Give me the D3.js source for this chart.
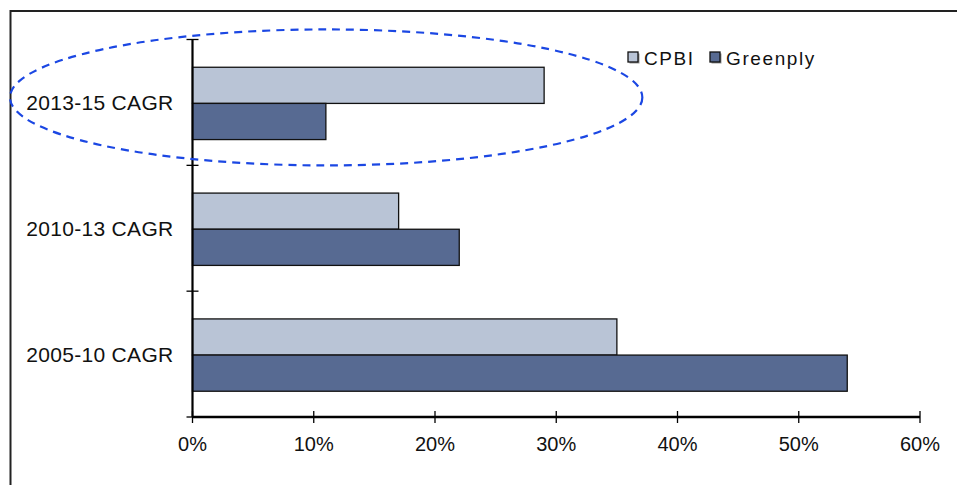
<!DOCTYPE html>
<html>
<head>
<meta charset="utf-8">
<script src="https://cdn.jsdelivr.net/npm/d3@7"></script>
<style>
  body { margin: 0; background: #fff; }
  svg { display: block; font-family: "Liberation Sans", Arial, sans-serif; }
</style>
</head>
<body>
<div id="chart"></div>
<script>
const categories = ["2013-15 CAGR", "2010-13 CAGR", "2005-10 CAGR"];
const seriesNames = ["CPBI", "Greenply"];
const cpbi = [29, 17, 35];
const greenply = [11, 22, 54];
const xTicks = [0, 10, 20, 30, 40, 50, 60];

const colors = { CPBI: "#b9c4d6", Greenply: "#576a92" };

const width = 957,
      height = 485,
      margin = ({ top: 39.5, right: 37, bottom: 68, left: 192.5 });

const data = categories.map((c, i) => ({
    cat: c,
    values: [{ key: "CPBI", v: cpbi[i] }, { key: "Greenply", v: greenply[i] }]
}));

let svg = d3.select("#chart")
    .append("svg")
    .attr("width", width)
    .attr("height", height)
    .attr("viewBox", [0, 0, width, height]);

// outer frame (right/bottom edges run off the picture)
svg.append("rect")
    .attr("x", 10.5).attr("y", 11)
    .attr("width", 980).attr("height", 500)
    .attr("fill", "none")
    .attr("stroke", "#222")
    .attr("stroke-width", 2);

let x = d3.scaleLinear()
    .domain([0, 60])
    .range([margin.left, width - margin.right]);

let y = d3.scaleBand()
    .domain(categories)
    .range([margin.top, height - margin.bottom])
    .padding(0);

let y1 = d3.scaleBand()
    .domain(seriesNames)
    .range([0, y.bandwidth()])
    .paddingOuter(0.74)
    .paddingInner(0);

// bars
let group = svg.selectAll(".grp")
    .data(data)
    .join("g")
    .attr("class", "grp")
    .attr("transform", d => `translate(0,${y(d.cat) + 1})`);

group.selectAll("rect")
    .data(d => d.values)
    .join("rect")
    .attr("x", x(0))
    .attr("y", d => y1(d.key))
    .attr("width", d => x(d.v) - x(0))
    .attr("height", y1.bandwidth())
    .attr("fill", d => colors[d.key])
    .attr("stroke", "#111")
    .attr("stroke-width", 1.3);

// x axis with cross ticks
let xAxis = svg.append("g")
    .attr("transform", `translate(0,${height - margin.bottom})`);
xAxis.append("line")
    .attr("x1", x(0)).attr("x2", x(60))
    .attr("stroke", "#000").attr("stroke-width", 2.5);
xAxis.selectAll(".tk")
    .data(xTicks)
    .join("line")
    .attr("x1", d => x(d)).attr("x2", d => x(d))
    .attr("y1", -6).attr("y2", 6)
    .attr("stroke", "#000").attr("stroke-width", 1.3);
xAxis.selectAll(".lbl")
    .data(xTicks)
    .join("text")
    .attr("x", d => x(d))
    .attr("y", 34)
    .attr("text-anchor", "middle")
    .attr("font-size", 20)
    .attr("fill", "#111")
    .text(d => d + "%");

// y axis
let yAxis = svg.append("g");
yAxis.append("line")
    .attr("x1", x(0)).attr("x2", x(0))
    .attr("y1", margin.top).attr("y2", height - margin.bottom)
    .attr("stroke", "#000").attr("stroke-width", 2.2);
let yTickPos = categories.map(c => y(c)).concat([y(categories[categories.length - 1]) + y.bandwidth()]);
yAxis.selectAll(".ytk")
    .data(yTickPos)
    .join("line")
    .attr("x1", x(0) - 6).attr("x2", x(0) + 6)
    .attr("y1", d => d).attr("y2", d => d)
    .attr("stroke", "#000").attr("stroke-width", 1.3);
yAxis.selectAll(".ylbl")
    .data(categories)
    .join("text")
    .attr("x", x(0) - 19)
    .attr("y", d => y(d) + y.bandwidth() / 2 + 8)
    .attr("text-anchor", "end")
    .attr("font-size", 21)
    .attr("letter-spacing", 0.3)
    .attr("fill", "#111")
    .text(d => d);

// legend
let legend = svg.append("g")
    .attr("transform", `translate(628,52)`);
let li = legend.selectAll("g")
    .data(seriesNames)
    .join("g")
    .attr("transform", (d, i) => `translate(${i * 82},0)`);
li.append("rect")
    .attr("x", 1.5).attr("y", 1.5)
    .attr("width", 10).attr("height", 10)
    .attr("fill", "#999");
li.append("rect")
    .attr("width", 10).attr("height", 10)
    .attr("fill", d => colors[d])
    .attr("stroke", "#111").attr("stroke-width", 1.3);
li.append("text")
    .attr("x", 16)
    .attr("y", 13)
    .attr("font-size", 19)
    .attr("letter-spacing", 1.6)
    .attr("fill", "#111")
    .text(d => d);

// dashed ellipse highlighting the latest period
let leftEdge = 10, rightEdge = x(37.1);
svg.append("ellipse")
    .attr("cx", (leftEdge + rightEdge) / 2)
    .attr("cy", y(categories[0]) + y.bandwidth() / 2 - 5)
    .attr("rx", (rightEdge - leftEdge) / 2)
    .attr("ry", 68)
    .attr("fill", "none")
    .attr("stroke", "#1b47e3")
    .attr("stroke-width", 2.2)
    .attr("stroke-dasharray", "8,6");
</script>
</body>
</html>
